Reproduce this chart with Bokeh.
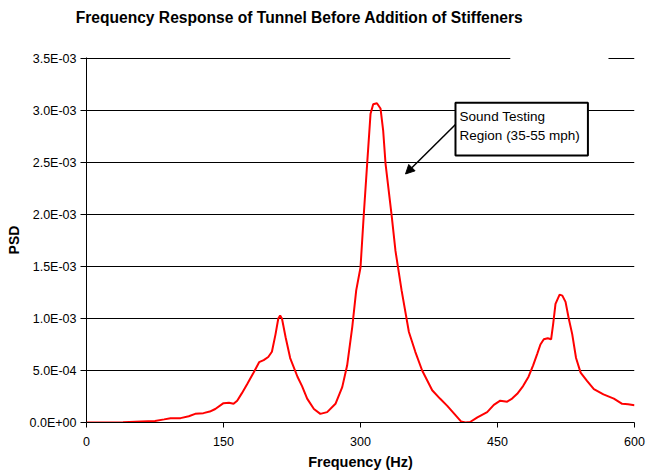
from bokeh.plotting import figure
from bokeh.models import (FixedTicker, CustomJSTickFormatter, BoxAnnotation, Label,
                          Arrow, NormalHead, Range1d, LinearAxis)
from bokeh.embed import file_html
from bokeh.resources import INLINE

# ---- data ----
freq = [0, 20, 40, 60, 75, 85, 92, 103, 112, 119, 128, 135, 141, 150, 156, 161, 165,
        170, 176, 183, 189, 194, 199, 203, 207, 210, 212, 214, 218, 223, 231, 236,
        241.6, 249, 256, 263.5, 272.6, 280, 285.4, 291, 295.3, 300, 303.6, 307.3,
        311, 313.9, 318, 321.9, 324.8, 327.4, 334, 338.3, 345, 353, 360, 367.5,
        378.5, 387, 395, 403, 410, 415, 420, 428, 438.7, 446, 453, 460.6, 466,
        471.6, 478, 484, 489, 493.5, 497, 500.7, 505, 508.7, 511, 513.5, 518, 521,
        524.5, 528, 531.8, 536, 541, 548, 555.5, 566, 577.4, 586.5, 593, 600]
psd_milli = [0, 0, 0.003, 0.01, 0.015, 0.03, 0.041, 0.042, 0.06, 0.083, 0.09, 0.105,
             0.13, 0.186, 0.19, 0.18, 0.21, 0.28, 0.37, 0.48, 0.58, 0.60, 0.63, 0.68,
             0.85, 1.0, 1.03, 1.0, 0.82, 0.62, 0.44, 0.35, 0.23, 0.13, 0.083, 0.10,
             0.18, 0.34, 0.55, 0.92, 1.27, 1.49, 2.0, 2.49, 2.97, 3.06, 3.07, 3.02,
             2.81, 2.49, 2.0, 1.65, 1.27, 0.87, 0.68, 0.5, 0.31, 0.23, 0.16, 0.08,
             0.01, 0.0, 0.005, 0.05, 0.10, 0.17, 0.21, 0.20, 0.23, 0.276, 0.35, 0.44,
             0.55, 0.66, 0.75, 0.80, 0.81, 0.80, 0.95, 1.14, 1.23, 1.22, 1.16, 1.0,
             0.85, 0.62, 0.48, 0.40, 0.32, 0.27, 0.23, 0.18, 0.175, 0.165]
psd = [v * 1e-3 for v in psd_milli]

x_ticks = [0, 150, 300, 450, 600]
x_tick_labels = ["0", "150", "300", "450", "600"]
y_ticks = [0, 0.0005, 0.001, 0.0015, 0.002, 0.0025, 0.003, 0.0035]
y_tick_labels = ["0.0E+00", "5.0E-04", "1.0E-03", "1.5E-03", "2.0E-03",
                 "2.5E-03", "3.0E-03", "3.5E-03"]

title_text = "Frequency Response of Tunnel Before Addition of Stiffeners"
note_lines = ["Sound Testing", "Region (35-55 mph)"]

FONT = "Liberation Sans"

p = figure(width=647, height=474, output_backend="svg", toolbar_location=None,
           x_range=Range1d(0, 600), y_range=Range1d(0, 0.00351),
           min_border_left=86, min_border_right=13, min_border_top=57,
           min_border_bottom=52)
p.outline_line_color = None
p.background_fill_color = "white"
p.border_fill_color = "white"
p.title.text = ""

xax = p.below[0]
yax = p.left[0]

# chart title, drawn as the single label of a bare axis above the plot
title_axis = LinearAxis(ticker=FixedTicker(ticks=[233.2]),
                        formatter=CustomJSTickFormatter(args=dict(t=title_text), code="return t"),
                        major_tick_out=0, major_tick_in=0, major_label_standoff=32,
                        major_label_text_font=FONT, major_label_text_font_size="15.6px",
                        major_label_text_font_style="bold", major_label_text_color="black",
                        axis_line_color=None, major_tick_line_color=None,
                        minor_tick_line_color=None)
p.add_layout(title_axis, "above")

fmt_code = """
let best = 0; let bd = 1e99;
for (let i = 0; i < vals.length; i++) {
  const d = Math.abs(vals[i] - tick);
  if (d < bd) { bd = d; best = i; }
}
return labels[best];
"""
xax.ticker = FixedTicker(ticks=x_ticks)
xax.formatter = CustomJSTickFormatter(args=dict(vals=x_ticks, labels=x_tick_labels), code=fmt_code)
yax.ticker = FixedTicker(ticks=y_ticks)
yax.formatter = CustomJSTickFormatter(args=dict(vals=y_ticks, labels=y_tick_labels), code=fmt_code)

for ax in (xax, yax):
    ax.major_label_text_font = FONT
    ax.major_label_text_font_size = "12.5px"
    ax.major_label_text_color = "black"
    ax.axis_label_text_font = FONT
    ax.axis_label_text_font_size = "14px"
    ax.axis_label_text_font_style = "bold"
    ax.axis_label_text_color = "black"
    ax.axis_line_color = "black"
    ax.major_tick_line_color = "black"
    ax.minor_tick_line_color = None
    ax.major_tick_in = 0

xax.axis_label = "Frequency (Hz)"
yax.axis_label = "PSD"
xax.axis_label_text_font_size = "14.5px"
xax.major_tick_out = 5
yax.major_tick_out = 6
xax.major_label_standoff = 9
yax.major_label_standoff = 4
xax.axis_label_standoff = 5
yax.axis_label_standoff = 5

p.xgrid.grid_line_color = None
p.ygrid.grid_line_color = "black"
p.ygrid.grid_line_width = 1

# gap in the top gridline, as in the reference
p.add_layout(BoxAnnotation(left=464, right=571.5, bottom=0.00347, top=0.0036,
                           fill_color="white", fill_alpha=1, line_color=None,
                           level="underlay"))

p.line(freq, psd, line_color="#FF0000", line_width=2)

# annotation box with arrow
p.add_layout(BoxAnnotation(left=404, right=549, bottom=0.002567, top=0.003074,
                           fill_color="white", fill_alpha=1, line_color="black",
                           line_alpha=1, line_width=2))
p.add_layout(Label(x=408.5, y=0.00294, text=note_lines[0], text_font=FONT,
                   text_font_size="13.5px", text_color="black", text_baseline="alphabetic"))
p.add_layout(Label(x=408.5, y=0.00276, text=note_lines[1], text_font=FONT,
                   text_font_size="13.5px", text_color="black", text_baseline="alphabetic"))
p.add_layout(Arrow(x_start=404, y_start=0.002865, x_end=349.3, y_end=0.00239,
                   line_color="black", line_width=1.5,
                   end=NormalHead(size=9, fill_color="black", line_color="black")))

open("out.html", "w").write(file_html(p, INLINE))
